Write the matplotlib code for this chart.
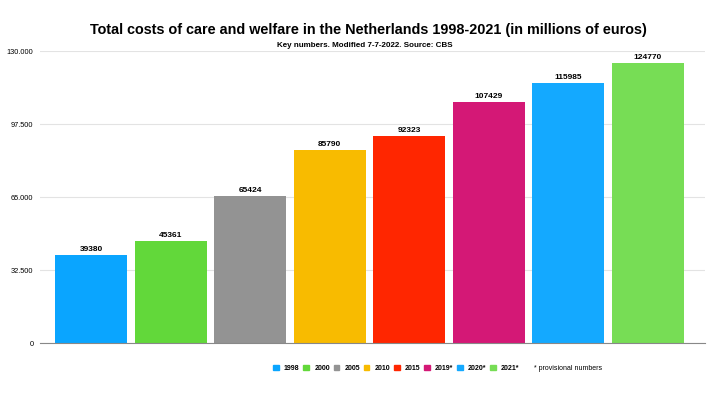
#!/usr/bin/env python3
"""
plot.py

Total costs of care and welfare in the Netherlands, 1998-2021.
Output: out.png
"""

import matplotlib.pyplot as plt
from matplotlib.patches import Patch
from matplotlib.ticker import FuncFormatter

years = ["1998", "2000", "2005", "2010", "2015", "2019*", "2020*", "2021*"]
costs = [39380, 45361, 65424, 85790, 92323, 107429, 115985, 124770]
colors = ["#0aa5ff", "#62d83a", "#939393", "#f8bb00",
          "#ff2600", "#d41876", "#14a9ff", "#77dd55"]
yticks = [0, 32500, 65000, 97500, 130000]

plt.rcParams["font.family"] = ["Liberation Sans", "DejaVu Sans"]


def fmt_thousands(v, _pos):
    return f"{int(v):,}".replace(",", ".")


def main():
    fig = plt.figure(figsize=(7.2, 3.93), dpi=100)
    ax = fig.add_axes([0.056, 0.127, 0.923, 0.743])

    x = range(len(years))
    bars = ax.bar(x, costs, width=0.905, color=colors, zorder=2)
    for b, v in zip(bars, costs):
        ax.text(b.get_x() + b.get_width() / 2, v + 900, str(v),
                ha="center", va="bottom", fontsize=6, fontweight="bold")

    ax.set_xlim(-0.64, 7.72)
    ax.set_ylim(0, 130000)
    ax.set_yticks(yticks)
    ax.yaxis.set_major_formatter(FuncFormatter(fmt_thousands))
    ax.set_xticks([])
    ax.grid(axis="y", color="#e3e3e3", linewidth=0.8, zorder=0)
    for s in ["top", "right", "left"]:
        ax.spines[s].set_visible(False)
    ax.spines["bottom"].set_color("#888888")
    ax.tick_params(axis="y", length=0, labelsize=5.3, pad=5)

    fig.text(0.512, 0.923, "Total costs of care and welfare in the Netherlands 1998-2021 (in millions of euros)",
             ha="center", va="center", fontsize=10.4, fontweight="bold")
    fig.text(0.507, 0.885, "Key numbers. Modified 7-7-2022. Source: CBS",
             ha="center", va="center", fontsize=5.8, fontweight="bold")

    handles = [Patch(color=c, label=y) for c, y in zip(colors, years)]
    handles.append(Patch(color="none", label="* provisional numbers"))
    leg = fig.legend(handles=handles, loc="center", bbox_to_anchor=(0.608, 0.062),
                     ncol=len(handles), frameon=False, fontsize=5,
                     handlelength=0.8, handleheight=0.8, handletextpad=0.75,
                     columnspacing=0.55)
    for t in leg.get_texts()[:-1]:
        t.set_fontweight("bold")

    fig.savefig("out.png", dpi=100)
    plt.close(fig)


if __name__ == "__main__":
    main()
